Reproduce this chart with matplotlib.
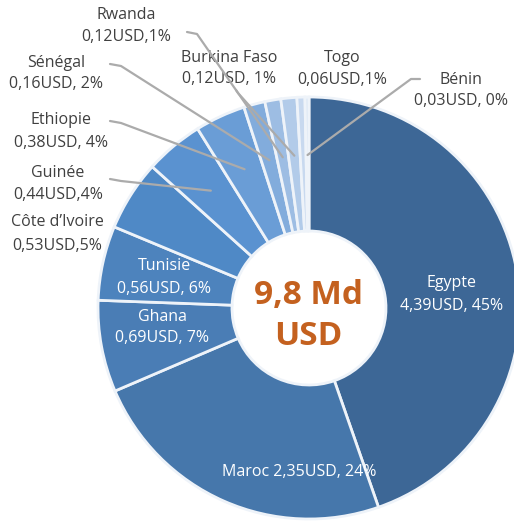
import numpy as np
import matplotlib.pyplot as plt

plt.rcParams['font.family'] = ['Open Sans', 'DejaVu Sans']

countries = ["Egypte", "Maroc", "Ghana", "Tunisie", "Côte d'Ivoire", "Guinée",
             "Ethiopie", "Sénégal", "Rwanda", "Burkina Faso", "Togo", "Bénin"]
amounts = [4.39, 2.35, 0.69, 0.56, 0.53, 0.44, 0.38, 0.16, 0.12, 0.12, 0.06, 0.03]
shares = [45, 24, 7, 6, 5, 4, 4, 2, 1, 1, 1, 0]
total_label = "9,8 Md\nUSD"

colors = ["#3d6796", "#4677ab", "#4a7db5", "#4d83bd", "#4f89c6", "#5a92d0",
          "#6a9dd6", "#82acdc", "#9dbde3", "#b2cbe9", "#c8d9ef", "#dde8f5"]

W, H = 514, 522
cx, cy = 309, H - 308
r_out, r_in = 211, 77


def px(x, y):
    # image-style (top-left origin) to axes data coords
    return x, H - y


def fmt(v):
    return "{:.2f}".format(v).replace(".", ",")


fig = plt.figure(figsize=(W / 100, H / 100), dpi=100)
ax = fig.add_axes([0, 0, 1, 1])

ax.pie(amounts, colors=colors, startangle=90, counterclock=False,
       center=(cx, cy), radius=r_out,
       wedgeprops=dict(width=r_out - r_in, edgecolor="#eef3f9", linewidth=2))
ax.set_xlim(0, W)
ax.set_ylim(0, H)
ax.set_aspect("auto")
ax.axis("off")

# mid angle of each wedge, clockwise from the top
fr = np.cumsum([0] + amounts) / sum(amounts)
mid = np.deg2rad(90 - 360 * (fr[:-1] + fr[1:]) / 2)


def wedge_point(i, r=153):
    return cx + r * np.cos(mid[i]), cy + r * np.sin(mid[i])


dark = "#404040"
fs = 11.5

# labels inside the ring
inside = {
    "Egypte": (452, 283, 306),
    "Tunisie": (164, 266, 289),
    "Ghana": (162, 317, 338),
}
for name, (x, y1, y2) in inside.items():
    i = countries.index(name)
    ax.text(*px(x, y1), name, color="white", fontsize=fs, ha="center", va="center")
    ax.text(*px(x, y2), "{}USD, {}%".format(fmt(amounts[i]), shares[i]),
            color="white", fontsize=fs, ha="center", va="center")

i = countries.index("Maroc")
ax.text(*px(299, 472), "Maroc {}USD, {}%".format(fmt(amounts[i]), shares[i]),
        color="white", fontsize=fs, ha="center", va="center")

# labels outside the ring: name, x, y of name, y of value, separator
outside = [
    ("Rwanda", 126, 15, 37, ","),
    ("Sénégal", 56, 63, 84, ", "),
    ("Ethiopie", 61, 120, 143, ", "),
    ("Guinée", 58, 173, 195, ","),
    ("Côte d'Ivoire", 57, 222, 246, ","),
    ("Burkina Faso", 229, 58, 79, ", "),
    ("Togo", 342, 58, 80, ","),
    ("Bénin", 461, 80, 101, ", "),
]
for name, x, y1, y2, sep in outside:
    i = countries.index(name)
    shown = name.replace("'", "\u2019")
    ax.text(*px(x, y1), shown, color=dark, fontsize=fs, ha="center", va="center")
    ax.text(*px(x, y2), "{}USD{}{}%".format(fmt(amounts[i]), sep, shares[i]),
            color=dark, fontsize=fs, ha="center", va="center")

# leader lines: start and elbow in image coords, end on the wedge
leaders = {
    "Rwanda": [(187, 32), (197, 34)],
    "Sénégal": [(110, 64), (121, 66)],
    "Ethiopie": [(110, 121), (121, 123)],
    "Guinée": [(110, 179), (121, 181)],
    "Burkina Faso": [(236, 90), (238, 93)],
    "Bénin": [(420, 79), (411, 79)],
}
for name, pts in leaders.items():
    i = countries.index(name)
    xs = [px(*p)[0] for p in pts]
    ys = [px(*p)[1] for p in pts]
    ex, ey = wedge_point(i)
    xs.append(ex)
    ys.append(ey)
    ax.plot(xs, ys, color="#ababab", linewidth=1.6, solid_capstyle="round", zorder=3)

ax.text(*px(308, 316), total_label, color="#c4611f", fontsize=24, fontweight="bold",
        ha="center", va="center", linespacing=1.35)

fig.savefig("out.png", dpi=100)
